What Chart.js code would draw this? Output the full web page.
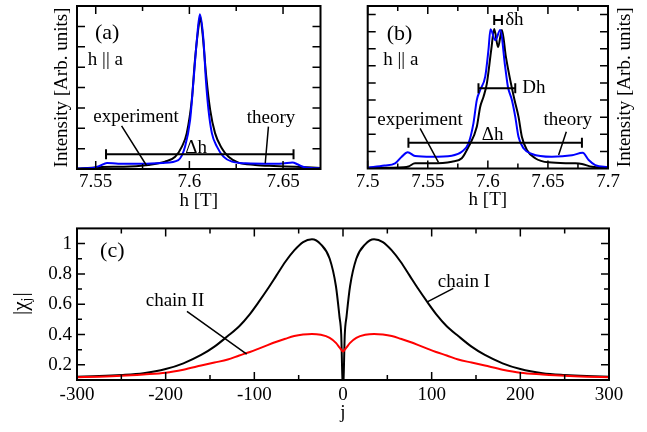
<!DOCTYPE html>
<html>
<head>
<meta charset="utf-8">
<script src="https://cdn.jsdelivr.net/npm/chart.js@4.4.1/dist/chart.umd.min.js"></script>
<style>
  html, body { margin: 0; padding: 0; background: #fff; }
  #wrap { position: relative; width: 647px; height: 432px; overflow: hidden; }
  canvas { position: absolute; }
</style>
</head>
<body>
<div id="wrap">
  <canvas id="panelA" width="330" height="212" style="left:0;top:0"></canvas>
  <canvas id="panelB" width="322" height="212" style="left:325px;top:0"></canvas>
  <canvas id="panelC" width="647" height="220" style="left:0;top:212px"></canvas>
</div>
<script>
// (a) single line, h || a
const aExpH = [7.540, 7.548, 7.553, 7.565, 7.578, 7.587, 7.5924, 7.596, 7.5986, 7.6013, 7.603, 7.6052, 7.6058,
               7.607, 7.609, 7.6111, 7.6137, 7.6173, 7.6209, 7.6262, 7.6351, 7.645, 7.6565, 7.670];
const aExpI = [0.02, 0.06, 0.10, 0.11, 0.20, 0.36, 0.60, 1.10, 1.76, 3.40, 5.37, 7.18, 7.45,
               6.68, 4.55, 2.90, 1.76, 1.02, 0.60, 0.31, 0.20, 0.15, 0.11, 0.05];
const aThH = [7.540, 7.548, 7.552, 7.556, 7.562, 7.575, 7.586, 7.5941, 7.5977, 7.6004, 7.6021, 7.604, 7.6056,
              7.6075, 7.6088, 7.6102, 7.612, 7.6147, 7.6182, 7.6227, 7.630, 7.645, 7.650, 7.655, 7.658, 7.661, 7.666, 7.670];
const aThI = [0.02, 0.05, 0.15, 0.30, 0.26, 0.26, 0.30, 0.44, 1.10, 2.41, 4.22, 6.35, 7.59,
              6.35, 4.38, 2.90, 1.76, 1.10, 0.61, 0.36, 0.28, 0.26, 0.27, 0.32, 0.22, 0.10, 0.04, 0.03];

// (b) double line
const bExpH = [7.500, 7.530, 7.5339, 7.5394, 7.5533, 7.570, 7.5783, 7.5839, 7.5908, 7.5936, 7.5964, 7.5992, 7.6028,
               7.6053, 7.6085, 7.6117, 7.615, 7.6186, 7.6222, 7.6255, 7.6283, 7.6325, 7.6394, 7.6505, 7.6728, 7.6783, 7.6867, 7.700];
const bExpI = [0.03, 0.08, 0.12, 0.30, 0.30, 0.40, 0.60, 1.27, 2.44, 3.60, 4.20, 4.98, 6.93,
               8.15, 7.10, 8.10, 6.54, 5.18, 4.00, 3.03, 1.86, 1.08, 0.60, 0.36, 0.30, 0.26, 0.10, 0.04];
const bThH = [7.500, 7.514, 7.5228, 7.5283, 7.5333, 7.5394, 7.5533, 7.570, 7.5783, 7.5839, 7.588, 7.5908, 7.5936, 7.5978, 7.6005,
              7.6022, 7.6062, 7.6103, 7.6144, 7.6167, 7.620, 7.6228, 7.6255, 7.6297, 7.6367, 7.6533, 7.670, 7.6789, 7.6839, 7.6894, 7.700];
const bThI = [0.05, 0.17, 0.30, 0.69, 0.95, 0.73, 0.69, 0.75, 0.98, 1.47, 2.64, 4.00, 4.59, 5.37, 6.93,
              8.14, 7.50, 8.10, 5.95, 4.78, 4.00, 3.03, 1.86, 1.18, 0.85, 0.69, 0.77, 0.92, 0.50, 0.20, 0.08];

// (c) |chi_j| along the chain
const jSites = [-300, -275, -250, -225, -200, -180, -160, -145, -130, -117, -105, -95, -85, -75, -65, -55, -45, -35, -25, -15, -8, -4, -2, 0,
                2, 4, 8, 15, 25, 35, 45, 55, 65, 75, 85, 95, 105, 117, 130, 145, 160, 180, 200, 225, 250, 275, 300];
const chainI = [0.122, 0.126, 0.133, 0.145, 0.172, 0.21, 0.265, 0.32, 0.39, 0.455, 0.535, 0.615, 0.70, 0.79, 0.88, 0.955, 1.01, 1.028, 0.995, 0.90, 0.72, 0.52, 0.40, 0,
                0.40, 0.52, 0.72, 0.90, 0.995, 1.028, 1.01, 0.955, 0.88, 0.79, 0.70, 0.615, 0.535, 0.455, 0.39, 0.32, 0.265, 0.21, 0.172, 0.145, 0.133, 0.126, 0.122];
const chainII = [0.118, 0.122, 0.128, 0.137, 0.148, 0.168, 0.195, 0.215, 0.235, 0.262, 0.285, 0.307, 0.33, 0.352, 0.372, 0.39, 0.40, 0.404, 0.398, 0.378, 0.345, 0.315, 0.30, 0.288,
                 0.30, 0.315, 0.345, 0.378, 0.398, 0.404, 0.40, 0.39, 0.372, 0.352, 0.33, 0.307, 0.285, 0.262, 0.235, 0.215, 0.195, 0.168, 0.148, 0.137, 0.128, 0.122, 0.118];

// tick values
const aTicksX = [7.55, 7.6, 7.65];
const aMinorX = [7.575, 7.625];
const aTicksY = [1, 2, 3, 4, 5, 6, 7];
const bTicksX = [7.5, 7.55, 7.6, 7.65, 7.7];
const bMinorX = [7.525, 7.575, 7.625, 7.675];
const bTicksY = [1, 2, 3, 4, 5, 6, 7, 8, 9];
const cTicksX = [-300, -200, -100, 0, 100, 200, 300];
const cMinorX = [-250, -150, -50, 50, 150, 250];
const cTicksY = [0.2, 0.4, 0.6, 0.8, 1];
const cMinorY = [0.3, 0.5, 0.7, 0.9];

Chart.defaults.font.family = '"Liberation Serif", "DejaVu Serif", serif';
Chart.defaults.font.size = 19;
Chart.defaults.color = '#000';

const pts = (xs, ys) => xs.map((x, i) => ({x: x, y: ys[i]}));
const FONT = s => s + 'px "Liberation Serif", "DejaVu Serif", serif';

// box, inward ticks, labels and axis titles
const decor = {
  id: 'decor',
  afterDatasetsDraw(chart, args, o) {
    const {ctx, chartArea: a} = chart;
    const sx = chart.scales.x, sy = chart.scales.y;
    const X = v => sx.getPixelForValue(v), Y = v => sy.getPixelForValue(v);
    ctx.save();
    ctx.strokeStyle = '#000';
    ctx.fillStyle = '#000';
    ctx.lineWidth = 1.5;
    ctx.beginPath();
    const tx = (vals, len) => vals.forEach(v => {
      const p = X(v);
      ctx.moveTo(p, a.bottom); ctx.lineTo(p, a.bottom - len);
      ctx.moveTo(p, a.top); ctx.lineTo(p, a.top + len);
    });
    const ty = (vals, len) => vals.forEach(v => {
      const p = Y(v);
      ctx.moveTo(a.left, p); ctx.lineTo(a.left + len, p);
      ctx.moveTo(a.right, p); ctx.lineTo(a.right - len, p);
    });
    tx(o.xMajor || [], 8); tx(o.xMinor || [], 5);
    ty(o.yMajor || [], 8); ty(o.yMinor || [], 5);
    ctx.stroke();
    ctx.lineWidth = 2;
    ctx.strokeRect(a.left, a.top, a.width, a.height);

    // leader lines and range bars
    ctx.lineWidth = 1.5;
    ctx.beginPath();
    (o.leaders || []).forEach(l => { ctx.moveTo(X(l[0]), Y(l[1])); ctx.lineTo(X(l[2]), Y(l[3])); });
    ctx.stroke();
    ctx.lineWidth = 2;
    ctx.beginPath();
    (o.bars || []).forEach(b => {
      const x1 = X(b[0]), x2 = X(b[1]), y = Y(b[2]);
      ctx.moveTo(x1, y); ctx.lineTo(x2, y);
      ctx.moveTo(x1, y - 5); ctx.lineTo(x1, y + 5);
      ctx.moveTo(x2, y - 5); ctx.lineTo(x2, y + 5);
    });
    ctx.stroke();

    (o.notes || []).forEach(n => {
      ctx.font = FONT(n.size || 19);
      ctx.textAlign = n.align || 'left';
      ctx.textBaseline = n.base || 'middle';
      ctx.fillText(n.text, X(n.x), Y(n.y));
    });

    // axis titles
    ctx.font = FONT(19);
    ctx.textAlign = 'center';
    ctx.textBaseline = 'middle';
    if (o.xTitle) ctx.fillText(o.xTitle, (a.left + a.right) / 2, a.bottom + o.xTitleOff);
    if (o.yTitle) {
      const cx = o.yTitleSide === 'right' ? a.right + o.yTitleOff : a.left - o.yTitleOff;
      ctx.translate(cx, (a.top + a.bottom) / 2);
      ctx.rotate(-Math.PI / 2);
      if (o.yTitle === 'chi') {
        // |χ_j|
        const big = FONT(21), small = FONT(14);
        ctx.font = big;
        const w1 = ctx.measureText('|\u03c7').width, w3 = ctx.measureText('|').width;
        ctx.font = small;
        const w2 = ctx.measureText('j').width;
        let x0 = -(w1 + w2 + w3) / 2;
        ctx.textAlign = 'left';
        ctx.font = big; ctx.fillText('|\u03c7', x0, 0);
        ctx.font = small; ctx.fillText('j', x0 + w1, 6);
        ctx.font = big; ctx.fillText('|', x0 + w1 + w2 + 1, 0);
      } else {
        ctx.fillText(o.yTitle, 0, 0);
      }
    }
    ctx.restore();
  }
};

function axes(xr, yr, xLabels, xHeight, yWidth, yLabels, tickPad) {
  return {
    x: {
      type: 'linear', min: xr[0], max: xr[1],
      grid: {display: false, drawTicks: false}, border: {display: false},
      ticks: {padding: tickPad, maxRotation: 0, autoSkip: false, callback: v => String(v)},
      afterBuildTicks: s => { s.ticks = xLabels.map(v => ({value: v})); },
      afterFit: s => { s.height = xHeight; }
    },
    y: {
      type: 'linear', min: yr[0], max: yr[1],
      grid: {display: false, drawTicks: false}, border: {display: false},
      ticks: {display: !!yLabels, padding: 5, callback: v => String(v)},
      afterBuildTicks: s => { s.ticks = (yLabels || []).map(v => ({value: v})); },
      afterFit: s => { s.width = yWidth; }
    }
  };
}

function line(data, color) {
  return {data: data, borderColor: color, borderWidth: 2, pointRadius: 0,
          cubicInterpolationMode: 'monotone', fill: false};
}

const common = {
  responsive: false, animation: false, events: [],
  plugins: {legend: {display: false}, tooltip: {enabled: false}}
};

new Chart(document.getElementById('panelA'), {
  type: 'line',
  data: {datasets: [line(pts(aThH, aThI), '#0000ff'), line(pts(aExpH, aExpI), '#000')]},
  options: Object.assign({}, common, {
    layout: {autoPadding: false, padding: {left: 0, top: 6, right: 9.5, bottom: 0}},
    scales: axes([7.54, 7.67], [0, 8], aTicksX, 43, 77, null, 2),
    plugins: Object.assign({}, common.plugins, {
      decor: {
        xMajor: aTicksX, xMinor: aMinorX, yMajor: aTicksY,
        xTitle: 'h [T]', xTitleOff: 32, yTitle: 'Intensity [Arb. units]', yTitleOff: 15,
        bars: [[7.5555, 7.6556, 0.72]],
        leaders: [[7.5638, 2.12, 7.5772, 0.16], [7.6422, 2.08, 7.6405, 0.28]],
        notes: [
          {text: '(a)', x: 7.5496, y: 6.65, size: 22},
          {text: 'h || a', x: 7.5458, y: 5.37},
          {text: 'experiment', x: 7.5715, y: 2.54, align: 'center'},
          {text: 'theory', x: 7.6436, y: 2.50, align: 'center'},
          {text: '\u0394h', x: 7.6036, y: 0.80, align: 'center', base: 'alphabetic'}
        ]
      }
    })
  }),
  plugins: [decor]
});

new Chart(document.getElementById('panelB'), {
  type: 'line',
  data: {datasets: [line(pts(bThH, bThI), '#0000ff'), line(pts(bExpH, bExpI), '#000')]},
  options: Object.assign({}, common, {
    layout: {autoPadding: false, padding: {left: 0, top: 6, right: 39, bottom: 0}},
    scales: axes([7.5, 7.7], [0, 9.5], bTicksX, 43.5, 42.7, null, 2),
    plugins: Object.assign({}, common.plugins, {
      decor: {
        xMajor: bTicksX, xMinor: bMinorX, yMajor: bTicksY,
        xTitle: 'h [T]', xTitleOff: 32, yTitle: 'Intensity [Arb. units]', yTitleOff: 17, yTitleSide: 'right',
        bars: [[7.5339, 7.6783, 1.51], [7.5922, 7.6228, 4.69], [7.6053, 7.6117, 8.68]],
        leaders: [[7.5436, 2.35, 7.5589, 0.36], [7.6653, 2.15, 7.6589, 0.79]],
        notes: [
          {text: '(b)', x: 7.5158, y: 7.87, size: 22},
          {text: 'h || a', x: 7.513, y: 6.35},
          {text: 'experiment', x: 7.5436, y: 2.83, align: 'center'},
          {text: 'theory', x: 7.6665, y: 2.83, align: 'center'},
          {text: '\u0394h', x: 7.604, y: 1.67, align: 'center', base: 'alphabetic'},
          {text: 'Dh', x: 7.6286, y: 4.68},
          {text: '\u03b4h', x: 7.6144, y: 8.68}
        ]
      }
    })
  }),
  plugins: [decor]
});

new Chart(document.getElementById('panelC'), {
  type: 'line',
  data: {datasets: [line(pts(jSites, chainII), '#ff0000'), line(pts(jSites, chainI), '#000')]},
  options: Object.assign({}, common, {
    layout: {autoPadding: false, padding: {left: 0, top: 6, right: 38, bottom: 0}},
    scales: axes([-300, 300], [0.1, 1.1], cTicksX, 52, 77, cTicksY, 4),
    plugins: Object.assign({}, common.plugins, {
      decor: {
        xMajor: cTicksX, xMinor: cMinorX, yMajor: cTicksY, yMinor: cMinorY,
        xTitle: 'j', xTitleOff: 33, yTitle: 'chi', yTitleOff: 56,
        leaders: [[-176, 0.553, -108.6, 0.27], [124.4, 0.704, 95.1, 0.615]],
        notes: [
          {text: '(c)', x: -274, y: 0.947, size: 22},
          {text: 'chain II', x: -189.5, y: 0.62, align: 'center'},
          {text: 'chain I', x: 107, y: 0.749}
        ]
      }
    })
  }),
  plugins: [decor]
});
</script>
</body>
</html>
